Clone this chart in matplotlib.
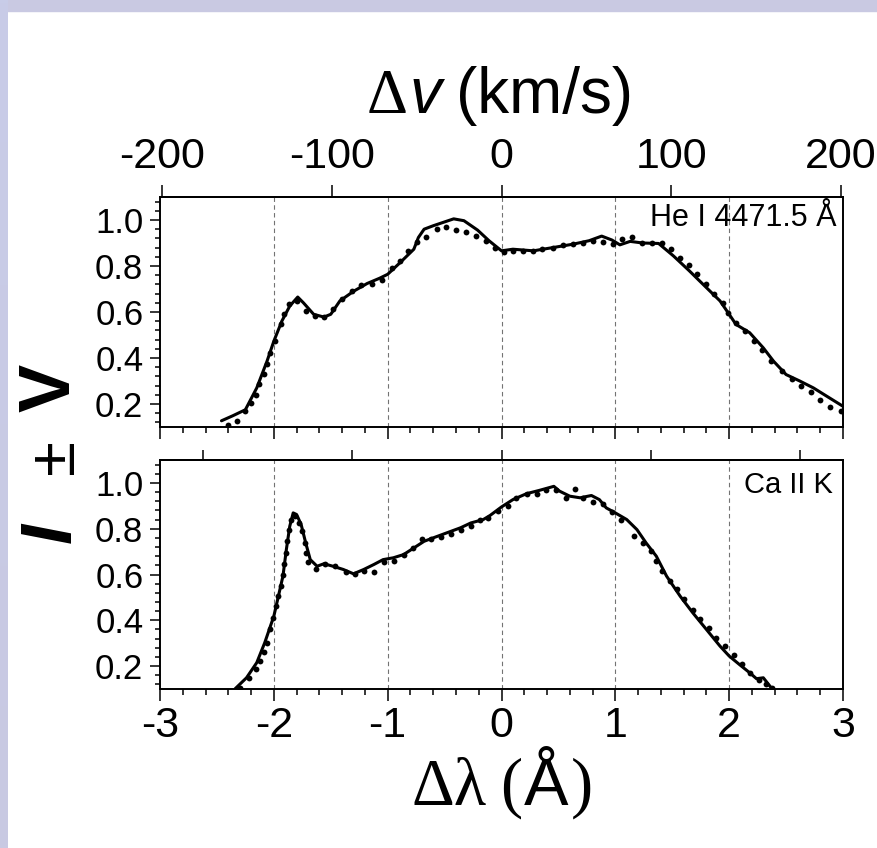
import matplotlib
matplotlib.use("Agg")
import matplotlib.pyplot as plt
import numpy as np
from matplotlib.ticker import MultipleLocator, FixedLocator, NullLocator
from matplotlib.patches import Rectangle

# ---------------------------------------------------------------- data
# He I 4471.5 A : observed profile (solid) and model (dots)
he_line_x = [-2.46, -2.36, -2.25, -2.15, -2.06, -2.00, -1.93, -1.86, -1.79, -1.74,
             -1.65, -1.56, -1.50, -1.42, -1.30, -1.18, -1.07, -1.00, -0.89, -0.77,
             -0.73, -0.68, -0.60, -0.51, -0.42, -0.33, -0.21, -0.11, 0.00, 0.10,
             0.28, 0.45, 0.63, 0.77, 0.88, 0.97, 1.04, 1.13, 1.24, 1.38,
             1.51, 1.65, 1.80, 1.92, 2.00, 2.06, 2.18, 2.30, 2.39, 2.50,
             2.62, 2.74, 2.86, 3.00]
he_line_y = [0.127, 0.149, 0.175, 0.270, 0.386, 0.473, 0.560, 0.626, 0.665, 0.640,
             0.590, 0.578, 0.590, 0.648, 0.690, 0.724, 0.747, 0.764, 0.815, 0.873,
             0.924, 0.960, 0.975, 0.990, 1.005, 0.997, 0.956, 0.910, 0.866, 0.873,
             0.866, 0.880, 0.895, 0.910, 0.930, 0.913, 0.892, 0.907, 0.900, 0.898,
             0.844, 0.779, 0.706, 0.648, 0.590, 0.546, 0.510, 0.444, 0.386, 0.328,
             0.300, 0.270, 0.233, 0.190]
he_dot_x = [-2.40, -2.32, -2.25, -2.20, -2.16, -2.13, -2.09, -2.06, -2.03, -1.99,
            -1.94, -1.91, -1.87, -1.80, -1.72, -1.64, -1.56, -1.48, -1.40, -1.31,
            -1.23, -1.14, -1.05, -0.96, -0.89, -0.82, -0.74, -0.66, -0.57, -0.49,
            -0.40, -0.31, -0.22, -0.14, -0.06, 0.02, 0.10, 0.19, 0.28, 0.36,
            0.45, 0.54, 0.63, 0.72, 0.80, 0.89, 0.98, 1.06, 1.15, 1.23,
            1.32, 1.41, 1.49, 1.57, 1.65, 1.72, 1.80, 1.87, 1.95, 1.99,
            2.06, 2.14, 2.22, 2.29, 2.37, 2.46, 2.55, 2.63, 2.72, 2.80,
            2.89, 2.98]
he_dot_y = [0.110, 0.124, 0.168, 0.204, 0.240, 0.289, 0.330, 0.375, 0.420, 0.473,
            0.546, 0.593, 0.633, 0.648, 0.604, 0.583, 0.578, 0.612, 0.655, 0.690,
            0.716, 0.720, 0.738, 0.790, 0.823, 0.866, 0.903, 0.927, 0.960, 0.968,
            0.956, 0.950, 0.932, 0.910, 0.880, 0.863, 0.866, 0.866, 0.866, 0.876,
            0.880, 0.892, 0.895, 0.898, 0.907, 0.905, 0.895, 0.917, 0.924, 0.900,
            0.900, 0.900, 0.876, 0.834, 0.805, 0.764, 0.720, 0.677, 0.640, 0.597,
            0.553, 0.517, 0.476, 0.433, 0.386, 0.345, 0.310, 0.277, 0.252, 0.219,
            0.185, 0.168]

# Ca II K : observed profile (solid) and model (dots)
ca_line_x = [-2.34, -2.24, -2.15, -2.08, -2.00, -1.96, -1.92, -1.89, -1.86, -1.83,
             -1.80, -1.76, -1.72, -1.68, -1.62, -1.56, -1.48, -1.39, -1.30, -1.21,
             -1.12, -1.04, -0.95, -0.86, -0.77, -0.68, -0.60, -0.48, -0.36, -0.27,
             -0.16, -0.10, 0.00, 0.10, 0.22, 0.33, 0.46, 0.51, 0.60, 0.69,
             0.79, 0.86, 0.92, 1.00, 1.10, 1.19, 1.27, 1.36, 1.45, 1.57,
             1.68, 1.80, 1.92, 2.00, 2.09, 2.18, 2.24, 2.30, 2.37]
ca_line_y = [0.101, 0.149, 0.215, 0.302, 0.418, 0.505, 0.593, 0.709, 0.811, 0.869,
             0.862, 0.818, 0.738, 0.665, 0.636, 0.647, 0.636, 0.622, 0.603, 0.622,
             0.644, 0.665, 0.673, 0.687, 0.716, 0.745, 0.760, 0.782, 0.804, 0.825,
             0.840, 0.858, 0.895, 0.927, 0.953, 0.967, 0.985, 0.964, 0.942, 0.935,
             0.945, 0.927, 0.891, 0.869, 0.840, 0.796, 0.738, 0.680, 0.593, 0.505,
             0.433, 0.360, 0.287, 0.244, 0.207, 0.171, 0.145, 0.149, 0.105]
ca_dot_x = [-2.30, -2.22, -2.16, -2.12, -2.09, -2.06, -2.03, -2.01, -1.98, -1.96,
            -1.94, -1.92, -1.91, -1.89, -1.88, -1.87, -1.85, -1.81, -1.78, -1.75,
            -1.73, -1.72, -1.70, -1.63, -1.55, -1.46, -1.37, -1.29, -1.21, -1.12,
            -1.03, -0.94, -0.86, -0.78, -0.70, -0.62, -0.53, -0.44, -0.36, -0.27,
            -0.19, -0.12, -0.03, 0.06, 0.13, 0.22, 0.31, 0.39, 0.48, 0.57,
            0.65, 0.72, 0.80, 0.89, 0.97, 1.05, 1.16, 1.24, 1.31, 1.36,
            1.41, 1.48, 1.54, 1.60, 1.68, 1.74, 1.82, 1.88, 1.96, 2.04,
            2.11, 2.18, 2.26, 2.32, 2.38]
ca_dot_y = [0.103, 0.149, 0.188, 0.222, 0.261, 0.302, 0.360, 0.411, 0.462, 0.505,
            0.549, 0.596, 0.644, 0.695, 0.745, 0.796, 0.837, 0.857, 0.825, 0.789,
            0.738, 0.695, 0.654, 0.622, 0.644, 0.636, 0.610, 0.603, 0.614, 0.611,
            0.654, 0.658, 0.683, 0.716, 0.756, 0.756, 0.764, 0.779, 0.796, 0.811,
            0.840, 0.845, 0.876, 0.901, 0.935, 0.953, 0.953, 0.971, 0.971, 0.935,
            0.974, 0.935, 0.916, 0.910, 0.872, 0.840, 0.770, 0.738, 0.702, 0.658,
            0.615, 0.571, 0.535, 0.491, 0.447, 0.407, 0.367, 0.324, 0.287, 0.247,
            0.207, 0.171, 0.139, 0.120, 0.105]

panel_labels = ["He I 4471.5 Å", "Ca II K"]
rest_wavelengths = [4471.5, 3933.66]       # Angstrom
velocity_ticks = [-200, -100, 0, 100, 200]  # km/s
lambda_ticks = [-3, -2, -1, 0, 1, 2, 3]     # Angstrom
intensity_ticks = [0.2, 0.4, 0.6, 0.8, 1.0]
guide_lines = [-2, -1, 0, 1, 2]

C_KMS = 299792.458

# ---------------------------------------------------------------- style
plt.rcParams["font.family"] = ["Liberation Sans", "DejaVu Sans"]
plt.rcParams["axes.unicode_minus"] = False

W_PX, H_PX, DPI = 877, 848, 100
fig = plt.figure(figsize=(W_PX / DPI, H_PX / DPI), dpi=DPI)
fig.patch.set_facecolor("white")

# lavender frame strips along the top and left edges
grad = np.linspace(0, 1, 256)[:, None]
edge_ax = fig.add_axes([0, 0, 8 / W_PX, 1])
edge_ax.imshow(grad, aspect="auto", extent=[0, 1, 0, 1],
               cmap=matplotlib.colors.LinearSegmentedColormap.from_list(
                   "edge", ["#c8cce8", "#c9c9e2"]))
edge_ax.set_axis_off()
fig.patches.append(Rectangle((0, 1 - 11 / H_PX), 1, 11 / H_PX,
                             transform=fig.transFigure, color="#c9c9e2",
                             zorder=-1))


def px_rect(left, top, right, bottom):
    return [left / W_PX, 1 - bottom / H_PX, (right - left) / W_PX,
            (bottom - top) / H_PX]


ax_he = fig.add_axes(px_rect(160, 197, 843, 427))
ax_ca = fig.add_axes(px_rect(160, 460, 843, 689))

SPINE_W = 1.4
TICK_W = 1.1
TICK_FS_X = 31
TICK_FS_Y = 25

panels = [
    (ax_he, he_line_x, he_line_y, he_dot_x, he_dot_y),
    (ax_ca, ca_line_x, ca_line_y, ca_dot_x, ca_dot_y),
]

for i, (ax, lx, ly, dx, dy) in enumerate(panels):
    ax.set_xlim(-3, 3)
    ax.set_ylim(0.1, 1.1)
    for g in guide_lines:
        ax.axvline(g, color="0.45", lw=0.8, ls=(0, (4, 3)), zorder=1)
    ax.plot(lx, ly, color="black", lw=2.2, solid_joinstyle="round",
            solid_capstyle="round", zorder=3)
    ax.plot(dx, dy, ls="none", marker="o", ms=4.2, color="black",
            markeredgewidth=0, zorder=4)

    for sp in ax.spines.values():
        sp.set_linewidth(SPINE_W)

    ax.yaxis.set_major_locator(FixedLocator(intensity_ticks))
    ax.yaxis.set_minor_locator(MultipleLocator(0.04))
    ax.set_yticklabels([f"{v:.1f}" for v in intensity_ticks])
    ax.xaxis.set_major_locator(FixedLocator(lambda_ticks))
    ax.xaxis.set_minor_locator(MultipleLocator(0.2))
    ax.tick_params(axis="y", which="major", direction="out", length=7,
                   width=TICK_W, labelsize=TICK_FS_Y, pad=5)
    ax.tick_params(axis="y", which="minor", direction="out", length=3.6,
                   width=TICK_W)
    ax.tick_params(axis="x", which="major", direction="out", length=8.5,
                   width=TICK_W, labelsize=TICK_FS_X, pad=4)
    ax.tick_params(axis="x", which="minor", direction="out", length=4.3,
                   width=TICK_W)
    ax.tick_params(top=False, right=False, which="both")
    if i == 0:
        ax.tick_params(axis="x", labelbottom=False)
    else:
        ax.set_xticklabels([str(t) for t in lambda_ticks])

    rest = rest_wavelengths[i]
    sec = ax.secondary_xaxis(
        "top",
        functions=(lambda d, r=rest: d / r * C_KMS,
                   lambda v, r=rest: v * r / C_KMS))
    sec.xaxis.set_major_locator(FixedLocator(velocity_ticks))
    sec.xaxis.set_minor_locator(NullLocator())
    sec.spines["top"].set_linewidth(SPINE_W)
    if i == 0:
        sec.tick_params(direction="out", length=8.5, width=TICK_W,
                        labelsize=TICK_FS_X, pad=6)
        sec.set_xticklabels([str(v) for v in velocity_ticks])
    else:
        sec.tick_params(direction="out", length=7, width=TICK_W,
                        labeltop=False)

    ax.text(0.991 if i == 0 else 0.985, 0.975 if i == 0 else 0.95,
            panel_labels[i], transform=ax.transAxes, ha="right", va="top",
            fontsize=22 if i == 0 else 21, zorder=5)


# ---------------------------------------------------------------- axis titles
def text_row(pieces, xc_px, base_px):
    """Lay out differently styled text pieces side by side on one baseline."""
    renderer = fig.canvas.get_renderer()
    arts, widths = [], []
    for s, kw, gap in pieces:
        t = fig.text(0, 0, s, ha="left", va="baseline", **kw)
        arts.append(t)
        widths.append(t.get_window_extent(renderer).width + gap)
    x = xc_px - sum(widths) / 2
    for t, w in zip(arts, widths):
        t.set_position((x / W_PX, 1 - base_px / H_PX))
        x += w


fig.canvas.draw()
SERIF = ["Liberation Serif", "DejaVu Serif"]
SANS = ["Liberation Sans", "DejaVu Sans"]

text_row([
    ("Δ", dict(family=SERIF, fontsize=46), 2),
    ("v", dict(family=SANS, fontsize=46, style="italic"), 14),
    ("(km/s)", dict(family=SANS, fontsize=46), 0),
], 500, 113)

text_row([
    ("Δλ", dict(family=SERIF, fontsize=48), 14),
    ("(", dict(family=SERIF, fontsize=48), 2),
    ("Å", dict(family=SANS, fontsize=48), 2),
    (")", dict(family=SERIF, fontsize=48), 0),
], 502, 805)

# rotated intensity label  I ± V
fig.text(51 / W_PX, 1 - 388 / H_PX, "V", rotation=90, ha="center",
         va="center", fontsize=52, fontweight="bold", family=SANS)
fig.text(56 / W_PX, 1 - 457 / H_PX, "±", rotation=90, ha="center",
         va="center", fontsize=46, family=SANS)
fig.text(52 / W_PX, 1 - 533 / H_PX, "I", rotation=90, ha="center",
         va="center", fontsize=52, fontweight="bold", style="italic",
         family=SANS)

fig.savefig("out.png", dpi=DPI)
